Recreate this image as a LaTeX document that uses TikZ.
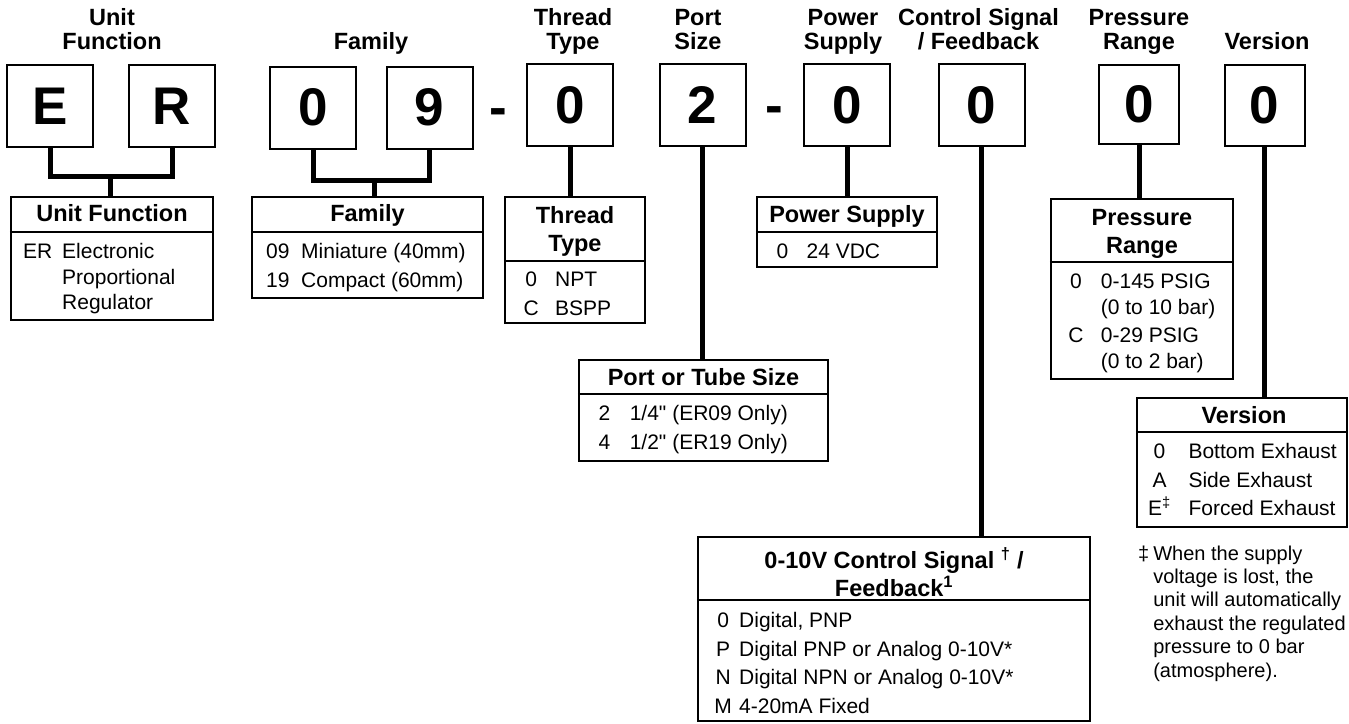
\documentclass[tikz,border=0pt]{standalone}
\usepackage{fontspec}
\setmainfont{Liberation Sans}
\newfontfamily\plainquote{Liberation Sans}[Ligatures=TeXOff]
\usepackage{array}
\usepackage{tikz}
\usetikzlibrary{positioning,calc}
\newcommand\hdrfont{\fontsize{23.5}{24.5}\selectfont\bfseries}
\newcommand\ttlfont{\fontsize{23.5}{28}\selectfont\bfseries}
\newcommand\itemfont{\fontsize{21}{28.5}\selectfont}
\newcommand\digitfont{\fontsize{53}{53}\selectfont\bfseries}
\newcommand\notefont{\fontsize{20}{23.4}\selectfont}
\newcommand\inch{{\plainquote"}}
\newcommand\linestack[1]{\begin{tabular}[t]{@{}c@{}}#1\end{tabular}}
\newcommand\keylist[2]{\begin{tabular}[t]{@{}wc{#1}@{}l@{}}#2\end{tabular}}
\tikzset{
  codebox/.style={draw=black,line width=2pt,minimum width=86pt,minimum height=82pt,
                  inner sep=0pt,font=\digitfont},
  dashsign/.style={inner sep=0pt,anchor=base,font=\digitfont},
  hdr/.style={inner sep=0pt,anchor=base,font=\hdrfont},
  keyframe/.style={draw=black,line width=2.5pt,inner sep=0pt},
  keytitle/.style={inner sep=0pt,anchor=base,font=\ttlfont},
  keybody/.style={inner sep=0pt,anchor=base west,font=\itemfont},
  keyrule/.style={line width=2.5pt},
  stemline/.style={line width=5pt}
}

\begin{document}
\begin{tikzpicture}[x=1pt,y=-1pt]
      \useasboundingbox (0,0) rectangle (1349,723);
      \fill[white] (0,0) rectangle (1349,723);
      % headers
      \node[hdr] (hdrunit) at (112,25) {\linestack{Unit\\Function}};
      \node[hdr] (hdrfam) at (371,49.5) {Family};
      \node[hdr] (hdrthread) at (573,25) {\linestack{Thread\\Type}};
      \node[hdr] (hdrport) at (698,25) {\linestack{Port\\Size}};
      \node[hdr] (hdrpower) at (843,25) {\linestack{Power\\Supply}};
      \node[hdr] (hdrctrl) at (978.5,25) {\linestack{Control Signal\\/ Feedback}};
      \node[hdr] (hdrpress) at (1139,25) {\linestack{Pressure\\Range}};
      \node[hdr] (hdrvers) at (1267,49.5) {Version};
      % code boxes
      \node[codebox] (codeE) at (50,106) {E};
      \node[codebox] (codeR) at (172,106) {R};
      \node[codebox] (fam0) at (313,107.5) {0};
      \node[codebox] (fam9) at (429.5,107.5) {9};
      \node[dashsign] (dash1) at (fam9.base -| 498,0) {-};
      \node[codebox] (thread) at (570,105) {0};
      \node[codebox] (port) at (702.5,105) {2};
      \node[dashsign] (dash2) at (port.base -| 774,0) {-};
      \node[codebox] (power) at (847,105) {0};
      \node[codebox] (ctrl) at (981.5,105) {0};
      \node[codebox,minimum width=80pt,minimum height=79pt] (press) at (1139,104.5) {0};
      \node[codebox,minimum width=80pt,minimum height=81pt] (vers) at (1264.5,105.5) {0};
      % unit function key
      \node[keyframe,minimum width=202pt,minimum height=123pt] (ufkey) at (112,258.5) {};
      \draw[keyrule] (ufkey.west |- 0,232) -- (ufkey.east |- 0,232);
      \node[keytitle] (uftitle) at (112,221.7) {Unit Function};
      \node[keybody] (ufbody) at (13,258.5)
        {\keylist{49pt}{ER & Electronic\\[-3pt] & Proportional\\[-3pt] & Regulator}};
      % family key
      \node[keyframe,minimum width=231pt,minimum height=101pt] (famkey) at (367.5,247.5) {};
      \draw[keyrule] (famkey.west |- 0,232) -- (famkey.east |- 0,232);
      \node[keytitle] (famtitle) at (367.5,221.7) {Family};
      \node[keybody] (fambody) at (254.4,258.5)
        {\keylist{46.6pt}{09 & Miniature (40mm)\\ 19 & Compact (60mm)}};
      % thread type key
      \node[keyframe,minimum width=140pt,minimum height=126pt] (threadkey) at (575,260) {};
      \draw[keyrule] (threadkey.west |- 0,261) -- (threadkey.east |- 0,261);
      \node[keytitle] (threadtitle) at (575,223.4) {\linestack{Thread\\Type}};
      \node[keybody] (threadbody) at (507,286.5)
        {\keylist{48pt}{0 & NPT\\ C & BSPP}};
      % port size key
      \node[keyframe,minimum width=249pt,minimum height=101pt] (portkey) at (703.5,410.5) {};
      \draw[keyrule] (portkey.west |- 0,394) -- (portkey.east |- 0,394);
      \node[keytitle] (porttitle) at (703.5,385.4) {Port or Tube Size};
      \node[keybody] (portbody) at (579,420.5)
        {\keylist{50.6pt}{2 & 1/4\inch\ (ER09 Only)\\ 4 & 1/2\inch\ (ER19 Only)}};
      % power supply key
      \node[keyframe,minimum width=180pt,minimum height=70pt] (powerkey) at (847,232) {};
      \draw[keyrule] (powerkey.west |- 0,232) -- (powerkey.east |- 0,232);
      \node[keytitle] (powertitle) at (847,222.4) {Power Supply};
      \node[keybody] (powerbody) at (758,258.5) {\keylist{48.4pt}{0 & 24 VDC}};
      % control signal key
      \node[keyframe,minimum width=392pt,minimum height=184pt] (ctrlkey) at (894,629) {};
      \draw[keyrule] (ctrlkey.west |- 0,600) -- (ctrlkey.east |- 0,600);
      \node[keytitle,font=\fontsize{23.5}{25}\selectfont\bfseries] (ctrltitle) at (894,568.4)
        {\linestack{0-10V Control Signal \textsuperscript{†} /\\Feedback\textsuperscript{1}}};
      \node[keybody] (ctrlbody) at (707,627.5)
        {\keylist{32pt}{0 & Digital, PNP\\ P & Digital PNP or Analog 0-10V*\\
          N & Digital NPN or Analog 0-10V*\\ M & 4-20mA Fixed}};
      % pressure range key
      \node[keyframe,minimum width=182pt,minimum height=180pt] (presskey) at (1142,289) {};
      \draw[keyrule] (presskey.west |- 0,262) -- (presskey.east |- 0,262);
      \node[keytitle] (presstitle) at (1142,225.4) {\linestack{Pressure\\Range}};
      \node[keybody] (pressbody) at (1050.7,288.5)
        {\keylist{50pt}{0 & 0-145 PSIG\\[-3pt] & (0 to 10 bar)\\ C & 0-29 PSIG\\[-3pt] & (0 to 2 bar)}};
      % version key
      \node[keyframe,minimum width=210pt,minimum height=129pt] (verskey) at (1242,462.5) {};
      \draw[keyrule] (verskey.west |- 0,432) -- (verskey.east |- 0,432);
      \node[keytitle] (verstitle) at (1244,423.4) {Version};
      \node[keybody] (versbody) at (1130.3,458.5)
        {\keylist{58pt}{0 & Bottom Exhaust\\ A & Side Exhaust\\ E\textsuperscript{‡} & Forced Exhaust}};
      \node[keybody,font=\notefont] (versnote) at (1138,560)
        {\begin{tabular}[t]{@{}l@{\hspace{4pt}}l@{}}‡ & When the supply\\ & voltage is lost, the\\
          & unit will automatically\\ & exhaust the regulated\\ & pressure to 0 bar\\
          & (atmosphere).\end{tabular}};
      % connectors
      \coordinate (ufjoin) at (110,176);
      \draw[stemline] (codeE.south) |- (ufjoin) -| (codeR.south);
      \draw[stemline] (ufjoin) -- (ufjoin |- ufkey.north);
      \coordinate (famjoin) at (374,180);
      \draw[stemline] (fam0.south) |- (famjoin) -| (fam9.south);
      \draw[stemline] (famjoin) -- (famjoin |- famkey.north);
      \draw[stemline] (thread.south) -- (thread.south |- threadkey.north);
      \draw[stemline] (port.south) -- (port.south |- portkey.north);
      \draw[stemline] (power.south) -- (power.south |- powerkey.north);
      \draw[stemline] (ctrl.south) -- (ctrl.south |- ctrlkey.north);
      \draw[stemline] (press.south) -- (press.south |- presskey.north);
      \draw[stemline] (vers.south) -- (vers.south |- verskey.north);
\end{tikzpicture}
\end{document}
